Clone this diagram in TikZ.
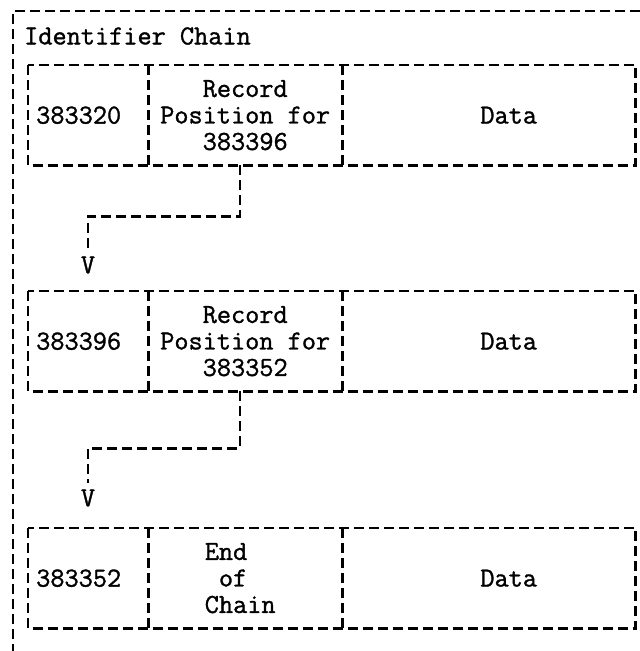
\documentclass[tikz,border=0pt]{standalone}
\usepackage{fontspec}
\newfontfamily\tw{Latin Modern Mono}[FakeBold=1.2]
\begin{document}
\begin{tikzpicture}[x=1pt,y=-1pt,
  dl/.style={dash pattern=on 10pt off 5pt, line width=2.2pt},
  cell/.style={minimum height=100pt, inner sep=0pt, anchor=north west},
  txt/.style={font=\tw\fontsize{27.5pt}{26.5pt}\selectfont, inner sep=0pt}]
\useasboundingbox (0,0) rectangle (640,651);
\draw[dl] (640,11) -- (13,11) -- (13,651);
\node[txt, anchor=west] (title) at (24,36) {Identifier Chain};

% record 1
\node[cell, minimum width=120pt] (a1) at (28,65) {};
\node[cell, minimum width=194pt] (b1) at (148,65) {};
\node[cell, minimum width=293pt] (c1) at (342,65) {};
\draw[dl] (a1.north west) rectangle (c1.south east);
\draw[dl] (a1.north east) -- (a1.south east);
\draw[dl] (b1.north east) -- (b1.south east);
\node[txt, anchor=west] (k1) at ([xshift=8pt]a1.west) {383320};
\node[txt, align=center] (p1) at (b1.center) {Record\\Position for\\383396};
\node[txt] (d1) at ([xshift=20pt]c1.center) {Data};

% record 2
\node[cell, minimum width=120pt] (a2) at (28,291) {};
\node[cell, minimum width=194pt] (b2) at (148,291) {};
\node[cell, minimum width=293pt] (c2) at (342,291) {};
\draw[dl] (a2.north west) rectangle (c2.south east);
\draw[dl] (a2.north east) -- (a2.south east);
\draw[dl] (b2.north east) -- (b2.south east);
\node[txt, anchor=west] (k2) at ([xshift=8pt]a2.west) {383396};
\node[txt, align=center] (p2) at (b2.center) {Record\\Position for\\383352};
\node[txt] (d2) at ([xshift=20pt]c2.center) {Data};

% record 3
\node[cell, minimum width=120pt] (a3) at (28,528) {};
\node[cell, minimum width=194pt] (b3) at (148,528) {};
\node[cell, minimum width=293pt] (c3) at (342,528) {};
\draw[dl] (a3.north west) rectangle (c3.south east);
\draw[dl] (a3.north east) -- (a3.south east);
\draw[dl] (b3.north east) -- (b3.south east);
\node[txt, anchor=west] (k3) at ([xshift=8pt]a3.west) {383352};
\node[txt, align=left] (p3) at ([xshift=-5pt]b3.center) {End\\\ of\\Chain};
\node[txt] (d3) at ([xshift=20pt]c3.center) {Data};

% pointers
\node[txt] (v1) at (88,265) {V};
\node[txt] (v2) at (88,498) {V};
\draw[dl, shorten >=4pt] ([xshift=-5pt]b1.south) -- ++(0,51) -| (v1.north);
\draw[dl, shorten >=6pt] ([xshift=-5pt]b2.south) -- ++(0,57) -| (v2.north);
\end{tikzpicture}
\end{document}
